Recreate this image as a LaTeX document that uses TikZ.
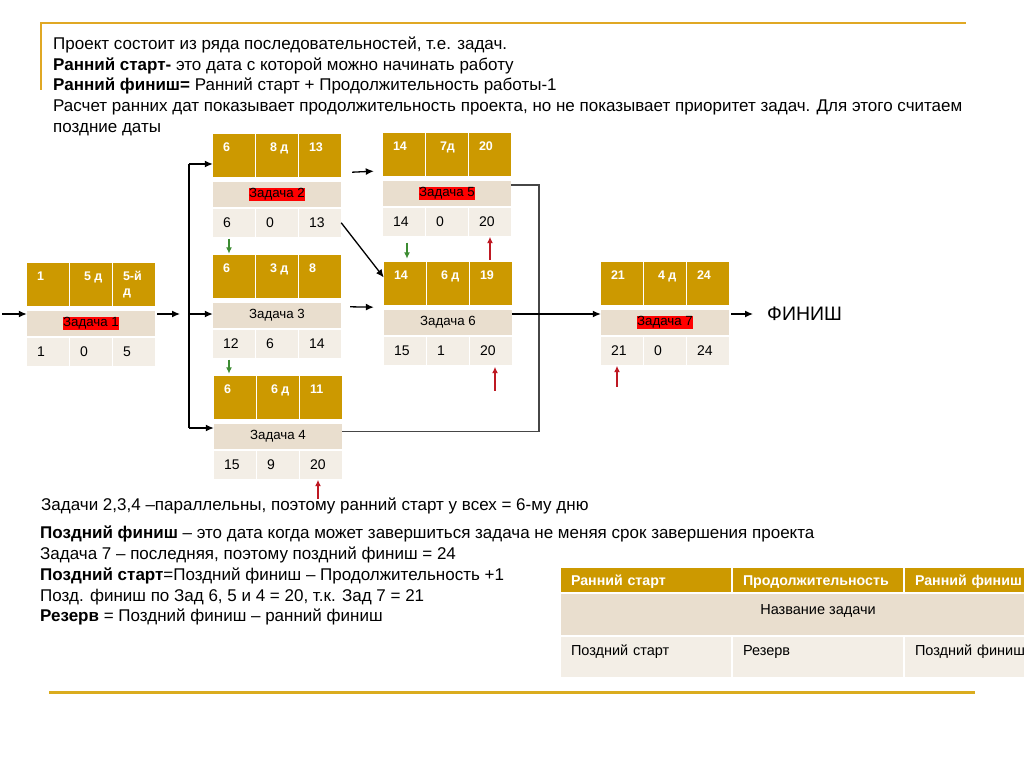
\documentclass[tikz,border=0pt]{standalone}
\usepackage{fontspec}
\setmainfont{Liberation Sans}
\usepackage{xcolor}
\usepackage{tikz}
\usetikzlibrary{arrows.meta, calc}
\definecolor{hdrgold}{RGB}{204,153,0}
\definecolor{namebeige}{RGB}{233,222,206}
\definecolor{lowbeige}{RGB}{243,238,230}
\definecolor{critred}{RGB}{255,0,0}
\definecolor{framegold}{RGB}{224,168,36}
\definecolor{rulegold}{RGB}{218,172,30}
\definecolor{downgreen}{RGB}{60,140,50}
\definecolor{updarkred}{RGB}{190,25,35}
\definecolor{joingray}{RGB}{70,70,70}

\newcommand{\critname}[1]{{\setlength{\fboxsep}{0.6pt}\colorbox{critred}{#1}}}
% task: id, (left,top), three header texts, name, three bottom texts
\newcommand{\taskbox}[9]{%
  \begin{scope}[shift={#2}]
    \node[hcell, label={[hlab]north west:#3}] (#1h1) at (21,21.5) {};
    \node[hcell, label={[hlab, xshift=4pt]north west:#4}] (#1h2) at (64,21.5) {};
    \node[hcell, label={[hlab]north west:#5}] (#1h3) at (107,21.5) {};
    \node[namebar] (#1) at (64,60.5) {#6};
    \node[bcell] (#1b1) at (21,88.75) {#7};
    \node[bcell] (#1b2) at (64,88.75) {#8};
    \node[bcell] (#1b3) at (107,88.75) {#9};
  \end{scope}}

\begin{document}
\begin{tikzpicture}[x=1pt, y=-1pt,
  hcell/.style={fill=hdrgold, minimum width=42pt, minimum height=43pt, inner sep=0pt},
  hlab/.style={anchor=north west, inner sep=0pt, xshift=10pt, yshift=-8.5pt,
               text=white, align=left, font=\fontsize{12.5}{15}\selectfont\bfseries},
  namebar/.style={fill=namebeige, minimum width=128pt, minimum height=25pt,
                  inner sep=0pt, font=\fontsize{13.3}{14}\selectfont},
  bcell/.style={fill=lowbeige, minimum width=42pt, minimum height=27.5pt,
                inner xsep=10pt, inner ysep=0pt, text width=22pt, align=left,
                text height=18pt, text depth=9.5pt, font=\fontsize{14}{15}\selectfont},
  lhead/.style={fill=hdrgold, minimum width=170pt, inner xsep=10pt, inner ysep=0pt,
                text width=150pt, align=left, text height=17pt, text depth=7pt,
                text=white, font=\fontsize{14.2}{15}\selectfont\bfseries},
  lname/.style={fill=namebeige, minimum width=514pt, inner sep=0pt,
                text height=20pt, text depth=21pt, font=\fontsize{14.5}{15}\selectfont},
  llow/.style={fill=lowbeige, minimum width=170pt, inner xsep=10pt, inner ysep=0pt,
               text width=150pt, align=left, text height=18.5pt, text depth=21.5pt,
               font=\fontsize{14.5}{15}\selectfont},
  note/.style={anchor=north west, inner sep=0pt, align=left},
  arr/.style={-{Latex[length=8pt, width=7pt]}, line width=1.3pt},
  joinline/.style={line width=1.2pt, draw=joingray},
  garr/.style={-{Latex[length=6.5pt, width=6pt]}, line width=1.3pt, draw=downgreen},
  rarr/.style={-{Latex[length=6.5pt, width=6pt]}, line width=1.3pt, draw=updarkred},
]
\useasboundingbox (0,0) rectangle (1024,767);
\clip (0,0) rectangle (1024,767);

% frame
\draw[framegold, line width=2pt] (40.5,90) -- (40.5,23.5) -- (966,23.5);
\draw[rulegold, line width=3pt] (49,692) -- (975,692);

% explanations
\node[note, font=\fontsize{17}{20.75}\selectfont] (intro) at (53,36.5)
  {Проект состоит из ряда последовательностей, т.е. задач.\\
   \textbf{Ранний старт-} это дата с которой можно начинать работу\\
   \textbf{Ранний финиш=} Ранний старт + Продолжительность работы-1\\
   Расчет ранних дат показывает продолжительность проекта, но не показывает приоритет задач. Для этого считаем\\
   поздние даты};

% tasks
\taskbox{t1}{(27,263)}{1}{5 д}{5-й\\д}{\critname{Задача 1}}{1}{0}{5}
\taskbox{t2}{(213,134)}{6}{8 д}{13}{\critname{Задача 2}}{6}{0}{13}
\taskbox{t3}{(213,255)}{6}{3 д}{8}{Задача 3}{12}{6}{14}
\taskbox{t4}{(214,376)}{6}{6 д}{11}{Задача 4}{15}{9}{20}
\taskbox{t5}{(383,133)}{14}{7д}{20}{\critname{Задача 5}}{14}{0}{20}
\taskbox{t6}{(384,262)}{14}{6 д}{19}{Задача 6}{15}{1}{20}
\taskbox{t7}{(601,262)}{21}{4 д}{24}{\critname{Задача 7}}{21}{0}{24}
\node[anchor=west, inner xsep=14pt, inner ysep=0pt, font=\fontsize{19.5}{22}\selectfont]
  (finish) at (753,314) {ФИНИШ};

% links
\coordinate (in) at (2,314);
\coordinate (split) at (189,314);
\coordinate (b2) at (189,164);
\coordinate (b4) at (189,428);
\coordinate (join) at (539,431.5);
\draw[arr] (in) -- (in -| t1.west);
\draw[arr] ([xshift=2pt]t1.east |- split) -- ([xshift=-9pt]split);
\draw[line width=1.3pt] (b2) -- (b4);
\draw[arr] (b2) -- (b2 -| t2h1.west);
\draw[arr] (split) -- (split -| t3.west);
\draw[arr] (b4) -- (b4 -| t4.west);
\draw[arr] ($(t2h3.south east)+(11,-5)$) -- ($(t5h1.south west)+(-9,-5)$);
\draw[arr] (t2b3.east) -- ([yshift=6pt]t6h1.west);
\draw[arr] ($(t3.north east)+(9,4)$) -- ($(t6h1.south west)+(-10,2)$);
\draw[joinline] ([yshift=8.5pt]t5.east) -| (join);
\draw[joinline] ([yshift=5pt]t4.east) -- (join);
\draw[arr] ([yshift=8.5pt]t6.east) -- ([yshift=8.5pt]t6.east -| t7.west);
\draw[arr] ([xshift=2pt, yshift=8.5pt]t7.east) -- (finish.west);

% early start passed down
\draw[garr, shorten <=2pt, shorten >=1pt] ([xshift=-5pt]t2b1.south) -- ([xshift=-5pt]t2b1.south |- t3h1.north);
\draw[garr, shorten <=2pt, shorten >=2pt] ([xshift=-5pt]t3b1.south) -- ([xshift=-5pt]t3b1.south |- t4h1.north);
\draw[garr, shorten <=7pt, shorten >=3pt] ([xshift=3pt]t5b1.south) -- ([xshift=3pt]t5b1.south |- t6h1.north);

% late finish marks
\draw[rarr, shorten >=1pt] ([yshift=-24pt]t5b3.south) -- (t5b3.south);
\draw[rarr, shorten >=2pt] ([xshift=4pt, yshift=-26pt]t6b3.south) -- ([xshift=4pt]t6b3.south);
\draw[rarr, shorten >=1pt] ([xshift=-3pt, yshift=-20pt]t4b3.south) -- ([xshift=-3pt]t4b3.south);
\draw[rarr, shorten >=1pt] ([xshift=-5pt, yshift=-22pt]t7b1.south) -- ([xshift=-5pt]t7b1.south);

% notes below
\node[note, font=\fontsize{17}{20.75}\selectfont] (par) at (41,497.5)
  {Задачи 2,3,4 –параллельны, поэтому ранний старт у всех = 6-му дню};
\node[note, font=\fontsize{17}{20.75}\selectfont] (late) at (40,526)
  {\textbf{Поздний финиш} – это дата когда может завершиться задача не меняя срок завершения проекта\\
   Задача 7 – последняя, поэтому поздний финиш = 24\\
   \textbf{Поздний старт}=Поздний финиш – Продолжительность +1\\
   Позд. финиш по Зад 6, 5 и 4 = 20, т.к. Зад 7 = 21\\
   \textbf{Резерв} = Поздний финиш – ранний финиш};

% legend
\node[lhead] (lg1) at (646,580) {Ранний старт};
\node[lhead] (lg2) at (818,580) {Продолжительность};
\node[lhead] (lg3) at (990,580) {Ранний финиш};
\node[lname] (lgname) at (818,614.5) {Название задачи};
\node[llow] (lg4) at (646,657) {Поздний старт};
\node[llow] (lg5) at (818,657) {Резерв};
\node[llow] (lg6) at (990,657) {Поздний финиш};
\end{tikzpicture}
\end{document}
